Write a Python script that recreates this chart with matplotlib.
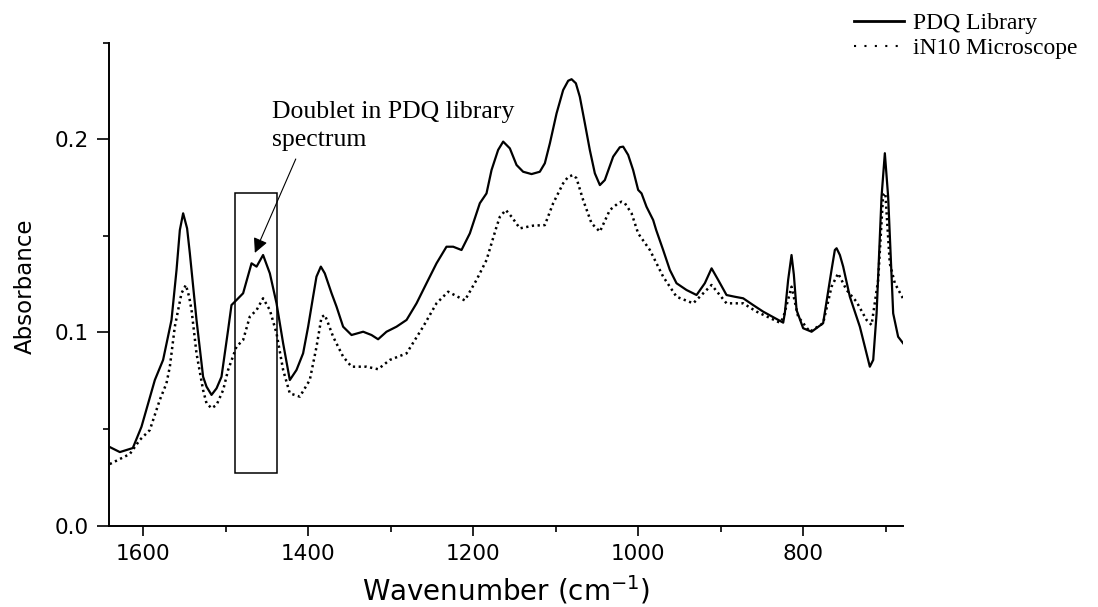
import matplotlib
matplotlib.use("Agg")
import matplotlib.pyplot as plt
from matplotlib.lines import Line2D
from matplotlib.patches import Rectangle

# PDQ Library spectrum (wavenumber cm-1, absorbance)
pdq_wn = [1640.4, 1628.2, 1612.5, 1602.0, 1585.8, 1575.8, 1565.6, 1559.5, 1555.5, 1551.5,
          1546.7, 1543.4, 1535.3, 1527.3, 1523.2, 1517.1, 1511.0, 1505.0, 1497.0, 1492.9,
          1486.8, 1478.8, 1468.6, 1462.5, 1454.6, 1446.4, 1438.3, 1430.3, 1422.2, 1414.1,
          1406.1, 1400.0, 1394.0, 1389.9, 1384.6, 1379.8, 1371.6, 1365.6, 1357.6, 1347.4,
          1333.3, 1323.2, 1315.2, 1305.0, 1292.9, 1280.7, 1268.6, 1256.5, 1244.4, 1232.3,
          1224.2, 1214.1, 1204.0, 1191.9, 1183.8, 1177.7, 1169.7, 1163.6, 1155.5, 1147.4,
          1139.4, 1129.2, 1119.2, 1113.1, 1107.0, 1098.9, 1090.9, 1084.8, 1080.7, 1075.5,
          1070.7, 1064.6, 1058.6, 1052.5, 1046.4, 1040.4, 1030.3, 1022.2, 1018.2, 1012.1,
          1006.1, 1000.0, 995.9, 989.9, 981.8, 978.2, 969.7, 961.6, 953.5, 941.4,
          929.2, 919.2, 911.0, 903.0, 892.9, 882.8, 872.7, 860.6, 848.5, 824.2,
          822.2, 818.2, 814.1, 811.3, 808.0, 800.0, 789.8, 775.8, 765.6, 761.6,
          759.5, 755.5, 751.5, 743.4, 731.3, 725.2, 719.2, 715.1, 711.0, 705.0,
          701.0, 697.0, 690.9, 684.9, 678.8]
pdq_abs = [0.0407, 0.0381, 0.0402, 0.0512, 0.0754, 0.0858, 0.1065, 0.1324, 0.1530, 0.1617,
           0.1539, 0.1411, 0.1065, 0.0771, 0.0720, 0.0677, 0.0711, 0.0771, 0.1013, 0.1142,
           0.1168, 0.1203, 0.1358, 0.1341, 0.1401, 0.1306, 0.1151, 0.0944, 0.0754, 0.0806,
           0.0892, 0.1030, 0.1185, 0.1289, 0.1341, 0.1306, 0.1203, 0.1134, 0.1030, 0.0987,
           0.1004, 0.0987, 0.0965, 0.1004, 0.1030, 0.1065, 0.1151, 0.1255, 0.1358, 0.1444,
           0.1444, 0.1427, 0.1513, 0.1669, 0.1720, 0.1841, 0.1945, 0.1988, 0.1953, 0.1867,
           0.1832, 0.1820, 0.1832, 0.1876, 0.1979, 0.2134, 0.2255, 0.2303, 0.2311, 0.2290,
           0.2220, 0.2083, 0.1945, 0.1824, 0.1763, 0.1789, 0.1910, 0.1959, 0.1962, 0.1919,
           0.1841, 0.1738, 0.1720, 0.1651, 0.1582, 0.1531, 0.1427, 0.1324, 0.1255, 0.1220,
           0.1194, 0.1255, 0.1332, 0.1272, 0.1194, 0.1185, 0.1177, 0.1142, 0.1108, 0.1051,
           0.1101, 0.1272, 0.1401, 0.1300, 0.1116, 0.1022, 0.1004, 0.1048, 0.1324, 0.1427,
           0.1436, 0.1401, 0.1341, 0.1185, 0.1030, 0.0926, 0.0823, 0.0858, 0.1099, 0.1703,
           0.1928, 0.1703, 0.1099, 0.0978, 0.0944]

# iN10 Microscope spectrum
in10_wn = [1640.4, 1616.1, 1604.0, 1591.9, 1579.8, 1571.7, 1567.6, 1561.6, 1553.5, 1548.2,
           1544.2, 1541.3, 1535.3, 1527.3, 1523.2, 1517.1, 1511.0, 1503.0, 1497.0, 1486.8,
           1478.8, 1470.7, 1462.5, 1454.6, 1446.4, 1438.3, 1430.3, 1422.2, 1410.1, 1398.0,
           1389.8, 1383.8, 1379.8, 1375.8, 1369.7, 1357.6, 1347.4, 1329.2, 1315.2, 1301.0,
           1280.7, 1260.6, 1244.4, 1230.3, 1210.1, 1195.9, 1183.8, 1171.6, 1167.6, 1160.4,
           1153.4, 1143.4, 1127.3, 1113.1, 1103.0, 1090.9, 1084.8, 1078.8, 1074.7, 1066.7,
           1056.5, 1046.4, 1034.3, 1024.2, 1020.1, 1016.1, 1008.0, 1000.0, 985.8, 969.7,
           953.5, 933.3, 911.0, 892.9, 872.7, 856.5, 828.3, 824.2, 814.1, 806.1,
           791.9, 775.8, 765.6, 757.6, 747.4, 735.3, 723.2, 717.1, 709.1, 703.1,
           700.4, 695.0, 688.9, 676.8]
in10_abs = [0.0319, 0.0371, 0.0444, 0.0495, 0.0651, 0.0737, 0.0823, 0.1030, 0.1203, 0.1246,
            0.1185, 0.1116, 0.0892, 0.0702, 0.0634, 0.0608, 0.0625, 0.0702, 0.0806, 0.0927,
            0.0961, 0.1082, 0.1116, 0.1177, 0.1116, 0.0996, 0.0806, 0.0685, 0.0668, 0.0754,
            0.0927, 0.1079, 0.1091, 0.1048, 0.0978, 0.0875, 0.0823, 0.0823, 0.0810, 0.0858,
            0.0892, 0.1030, 0.1151, 0.1211, 0.1166, 0.1272, 0.1375, 0.1548, 0.1599, 0.1634,
            0.1599, 0.1539, 0.1553, 0.1556, 0.1669, 0.1772, 0.1806, 0.1815, 0.1798, 0.1686,
            0.1565, 0.1522, 0.1634, 0.1669, 0.1677, 0.1669, 0.1617, 0.1513, 0.1427, 0.1289,
            0.1185, 0.1151, 0.1246, 0.1151, 0.1151, 0.1108, 0.1051, 0.1075, 0.1237, 0.1082,
            0.1004, 0.1048, 0.1237, 0.1306, 0.1220, 0.1159, 0.1065, 0.1039, 0.1272, 0.1711,
            0.1722, 0.1358, 0.1255, 0.1159]

x_major = [1600, 1400, 1200, 1000, 800]
x_minor = [1500, 1300, 1100, 900, 700]
y_major = [0.0, 0.1, 0.2]
y_minor = [0.05, 0.15, 0.25]

labels = ["PDQ Library", "iN10 Microscope"]
annot_text = "Doublet in PDQ library\nspectrum"

fig = plt.figure(figsize=(10.98, 6.07), dpi=100)
ax = fig.add_axes([0.09954, 0.13394, 0.72286, 0.79572])

ax.plot(pdq_wn, pdq_abs, color="black", lw=1.6, solid_joinstyle="round")
ax.plot(in10_wn, in10_abs, color="black", lw=1.8, linestyle=(0, (0.9, 1.4)))

ax.set_xlim(1641, 679)
ax.set_ylim(0, 0.25)

for s in ["top", "right"]:
    ax.spines[s].set_visible(False)
for s in ["left", "bottom"]:
    ax.spines[s].set_linewidth(1.4)

ax.set_xticks(x_major)
ax.set_xticks(x_minor, minor=True)
ax.set_yticks(y_major)
ax.set_yticks(y_minor, minor=True)
ax.set_yticklabels([f"{v:.1f}" for v in y_major])
ax.tick_params(axis="both", which="major", direction="out", width=1.2, labelsize=15.5)
ax.tick_params(axis="y", which="major", length=9, pad=6)
ax.tick_params(axis="x", which="major", length=7, pad=6)
ax.tick_params(axis="both", which="minor", direction="out", width=1.2, length=4)

fig.text(0.4607, 0.0115, "Wavenumber (cm$^{-1}$)", ha="center", va="baseline", fontsize=20)
fig.text(0.0228, 0.5288, "Absorbance", rotation=90, ha="center", va="center", fontsize=16.5)

# highlight box around doublet
ax.add_patch(Rectangle((1488.9, 0.0271), 1438.3 - 1488.9, 0.1720 - 0.0271,
                       fill=False, edgecolor="black", lw=1.1))

ax.text(1444.4, 0.1967, annot_text, family="Liberation Serif", fontsize=18.5,
        ha="left", va="baseline", linespacing=1.31)
ax.annotate("", xy=(1464.6, 0.1412), xytext=(1415.0, 0.1898),
            arrowprops=dict(arrowstyle="-|>", lw=0.8, color="black",
                            mutation_scale=22, shrinkA=0, shrinkB=0))

handles = [Line2D([], [], color="black", lw=2.0),
           Line2D([], [], color="black", lw=1.5, linestyle=(0, (1, 4)))]
fig.legend(handles, labels, loc="upper left", bbox_to_anchor=(0.7778, 0.9795),
           bbox_transform=fig.transFigure, frameon=False, borderpad=0, borderaxespad=0,
           handlelength=2.12, handletextpad=0.38, labelspacing=0.16,
           prop={"family": "Liberation Serif", "size": 17})

fig.savefig("out.png", dpi=100)
